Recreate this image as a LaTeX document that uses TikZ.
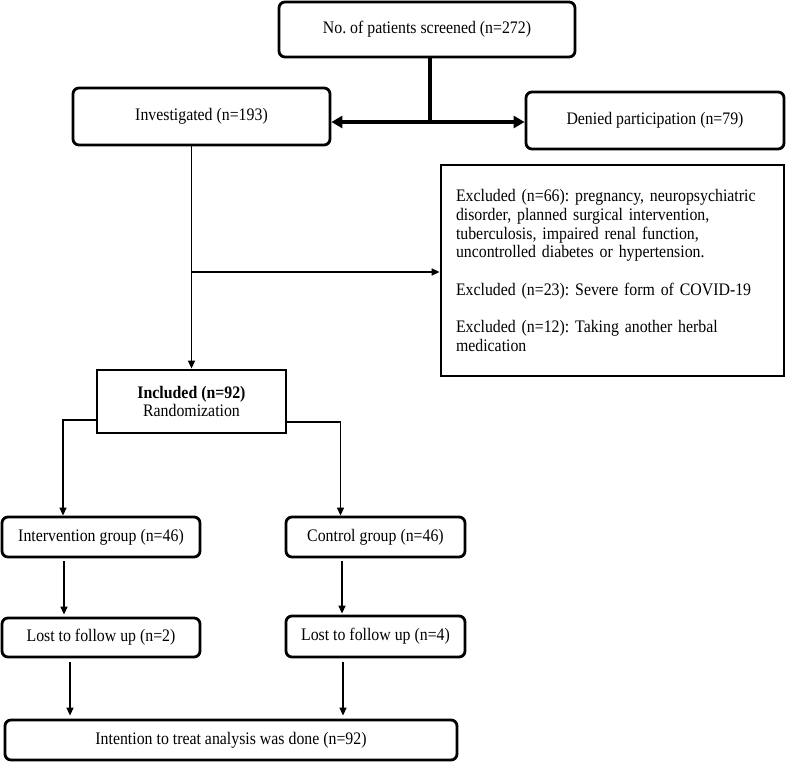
\documentclass[tikz,border=0pt]{standalone}
\usepackage{fontspec}
\setmainfont{Liberation Serif}[FakeStretch=0.9]
\usetikzlibrary{arrows.meta,calc}
\frenchspacing
\begin{document}
\begin{tikzpicture}[x=1pt,y=-1pt,
  font=\fontsize{17.6pt}{18.7pt}\selectfont,
  rbox/.style={draw,line width=2.8pt,rounded corners=6pt,inner sep=2pt,align=center},
  sbox/.style={draw,line width=2.8pt,inner sep=2pt,align=center},
  conn/.style={line width=1.4pt,-{Triangle[length=8pt,width=7pt]}},
  heavy/.style={line width=4.5pt},
  heavyarrow/.style={line width=4.5pt,{Triangle[length=11pt,width=12pt]}-{Triangle[length=11pt,width=12pt]}}]
\useasboundingbox (0,0) rectangle (790,762);
\node[rbox,minimum width=296pt,minimum height=55pt] (top) at (427,29.5) {No. of patients screened (n=272)};
\node[rbox,minimum width=257pt,minimum height=57pt] (invest) at (201.5,116.5) {Investigated (n=193)};
\node[rbox,minimum width=258pt,minimum height=57pt] (denied) at (655,120.5) {Denied participation (n=79)};
\node[sbox,minimum width=343pt,minimum height=211pt,text width=313pt,inner sep=15pt,align=left] (excl) at (612.5,270.5)
 {Excluded (n=66): pregnancy, neuropsychiatric\\ disorder, planned surgical intervention,\\ tuberculosis, impaired renal function,\\ uncontrolled diabetes or hypertension.\\[18.7pt]
  Excluded (n=23): Severe form of COVID-19\\[18.7pt]
  Excluded (n=12): Taking another herbal\\ medication};
\node[sbox,minimum width=189pt,minimum height=63pt] (incl) at (191.5,401.5) {\textbf{Included (n=92)}\\Randomization};
\node[rbox,minimum width=198pt,minimum height=40pt] (interv) at (101,537) {Intervention group (n=46)};
\node[rbox,minimum width=179pt,minimum height=40pt] (control) at (375.5,537) {Control group (n=46)};
\node[rbox,minimum width=198pt,minimum height=39pt] (lost2) at (101,637.5) {Lost to follow up (n=2)};
\node[rbox,minimum width=179pt,minimum height=41pt] (lost4) at (375.5,636.5) {Lost to follow up (n=4)};
\node[rbox,minimum width=452pt,minimum height=40pt] (final) at (231,740) {Intention to treat analysis was done (n=92)};
% top split
\coordinate (j) at (430,122);
\draw[heavy] (top.south -| j) -- (j);
\draw[heavyarrow] (invest.east |- j) -- (denied.west |- j);
% investigated -> included
\draw[conn] (incl.north |- invest.south) -- (incl.north);
\coordinate (b) at (191,272);
\draw[conn] (b) -- (excl.west |- b);
% randomization branches
\draw[conn] ($(incl.west)+(0,18.5)$) -| ($(interv.north)+(-38,0)$);
\draw[conn] ($(incl.east)+(0,20.5)$) -| ($(control.north)+(-35,0)$);
% groups -> lost
\draw[conn] ($(interv.south)+(-37,3)$) -- ($(lost2.north)+(-37,-2)$);
\draw[conn] ($(control.south)+(-33.5,3)$) -- ($(lost4.north)+(-33.5,-1)$);
% lost -> final
\draw[conn] ($(lost2.south)+(-31,4)$) -- ($(final.north)+(-161,-3)$);
\draw[conn] ($(lost4.south)+(-32.5,4)$) -- ($(final.north)+(112,-3)$);
\end{tikzpicture}
\end{document}
